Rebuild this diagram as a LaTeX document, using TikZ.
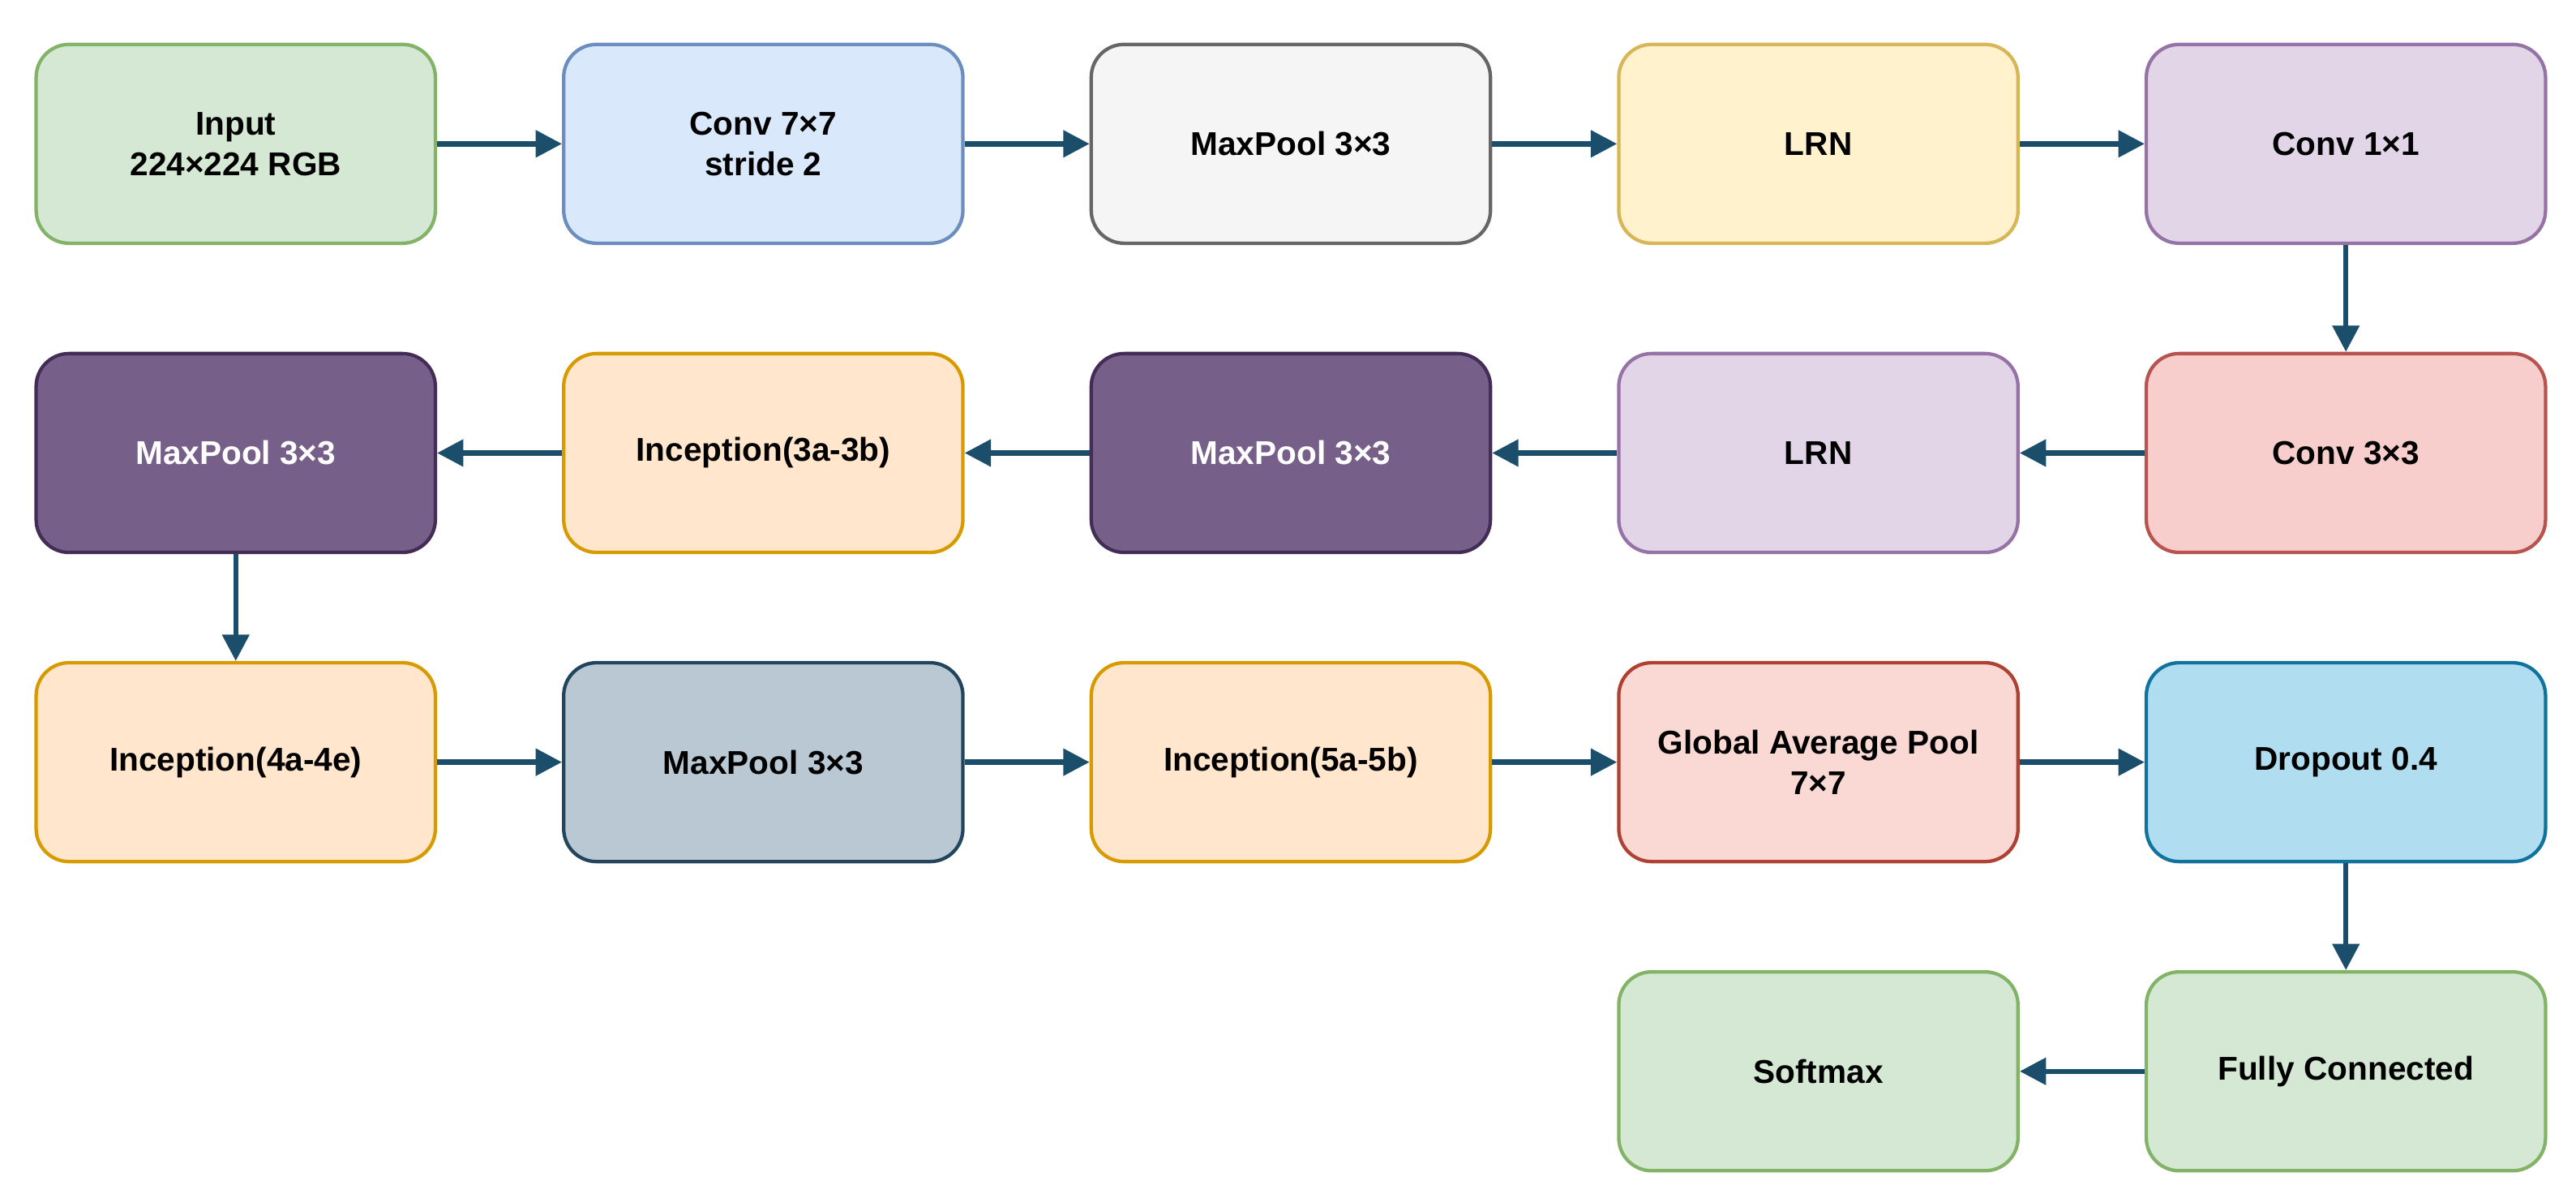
\documentclass[tikz,border=0pt]{standalone}
\usepackage{fontspec}
\setmainfont{Liberation Sans}
\usetikzlibrary{arrows.meta, positioning}
\definecolor{arrowc}{HTML}{1A4E6A}
\begin{document}
\begin{tikzpicture}[
	% Set the default distance between nodes.
	node distance=0.65cm and 0.76cm
	]
	% Define custom styles to make the code cleaner and more reusable.
	\tikzset{
		block/.style={draw, rectangle, rounded corners=2mm, minimum height=1.21cm, minimum width=2.43cm, align=center, line width=0.6pt, font=\fontsize{5.7}{7}\selectfont\bfseries},
		line/.style={-{Triangle[length=1.6mm, width=1.6mm]}, draw=arrowc, fill=arrowc, line width=0.9pt}
	}
	\useasboundingbox (0,0) rectangle (15.68,-7.26);
	
	% === NODES ===
	% Row 1, left to right.
	\node[block, fill={rgb,255:red,213;green,232;blue,212}, draw={rgb,255:red,130;green,179;blue,102}] (input) at (1.435,-0.875) {Input\\224×224 RGB};
	\node[block, right=of input, fill={rgb,255:red,218;green,232;blue,252}, draw={rgb,255:red,108;green,142;blue,191}] (conv7) {Conv 7×7\\stride 2};
	\node[block, right=of conv7, fill={rgb,255:red,245;green,245;blue,245}, draw={rgb,255:red,102;green,102;blue,102}] (pool1) {MaxPool 3×3};
	\node[block, right=of pool1, fill={rgb,255:red,255;green,242;blue,204}, draw={rgb,255:red,214;green,182;blue,86}] (lrn1) {LRN};
	\node[block, right=of lrn1, fill={rgb,255:red,225;green,213;blue,231}, draw={rgb,255:red,150;green,115;blue,166}] (conv1) {Conv 1×1};
	% Row 2, right to left.
	\node[block, below=of conv1, fill={rgb,255:red,248;green,206;blue,204}, draw={rgb,255:red,184;green,84;blue,80}] (conv3) {Conv 3×3};
	\node[block, left=of conv3, fill={rgb,255:red,225;green,213;blue,231}, draw={rgb,255:red,150;green,115;blue,166}] (lrn2) {LRN};
	\node[block, left=of lrn2, fill={rgb,255:red,118;green,96;blue,138}, draw={rgb,255:red,67;green,45;blue,87}, text=white] (pool2) {MaxPool 3×3};
	\node[block, left=of pool2, fill={rgb,255:red,255;green,230;blue,204}, draw={rgb,255:red,215;green,155;blue,0}] (inc3) {Inception(3a-3b)};
	\node[block, left=of inc3, fill={rgb,255:red,118;green,96;blue,138}, draw={rgb,255:red,67;green,45;blue,87}, text=white] (pool3) {MaxPool 3×3};
	% Row 3, left to right.
	\node[block, below=of pool3, fill={rgb,255:red,255;green,230;blue,204}, draw={rgb,255:red,215;green,155;blue,0}] (inc4) {Inception(4a-4e)};
	\node[block, right=of inc4, fill={rgb,255:red,186;green,200;blue,211}, draw={rgb,255:red,35;green,68;blue,93}] (pool4) {MaxPool 3×3};
	\node[block, right=of pool4, fill={rgb,255:red,255;green,230;blue,204}, draw={rgb,255:red,215;green,155;blue,0}] (inc5) {Inception(5a-5b)};
	\node[block, right=of inc5, fill={rgb,255:red,250;green,217;blue,213}, draw={rgb,255:red,174;green,65;blue,50}] (gap) {Global Average Pool\\7×7};
	\node[block, right=of gap, fill={rgb,255:red,177;green,221;blue,240}, draw={rgb,255:red,16;green,115;blue,158}] (drop) {Dropout 0.4};
	% Row 4, right to left.
	\node[block, below=of drop, fill={rgb,255:red,213;green,232;blue,212}, draw={rgb,255:red,130;green,179;blue,102}] (fc) {Fully Connected};
	\node[block, left=of fc, fill={rgb,255:red,213;green,232;blue,212}, draw={rgb,255:red,130;green,179;blue,102}] (soft) {Softmax};
	
	% === CONNECTIONS ===
	\draw[line] (input) -- (conv7);
	\draw[line] (conv7) -- (pool1);
	\draw[line] (pool1) -- (lrn1);
	\draw[line] (lrn1) -- (conv1);
	\draw[line] (conv1) -- (conv3);
	\draw[line] (conv3) -- (lrn2);
	\draw[line] (lrn2) -- (pool2);
	\draw[line] (pool2) -- (inc3);
	\draw[line] (inc3) -- (pool3);
	\draw[line] (pool3) -- (inc4);
	\draw[line] (inc4) -- (pool4);
	\draw[line] (pool4) -- (inc5);
	\draw[line] (inc5) -- (gap);
	\draw[line] (gap) -- (drop);
	\draw[line] (drop) -- (fc);
	\draw[line] (fc) -- (soft);
\end{tikzpicture}
\end{document}
